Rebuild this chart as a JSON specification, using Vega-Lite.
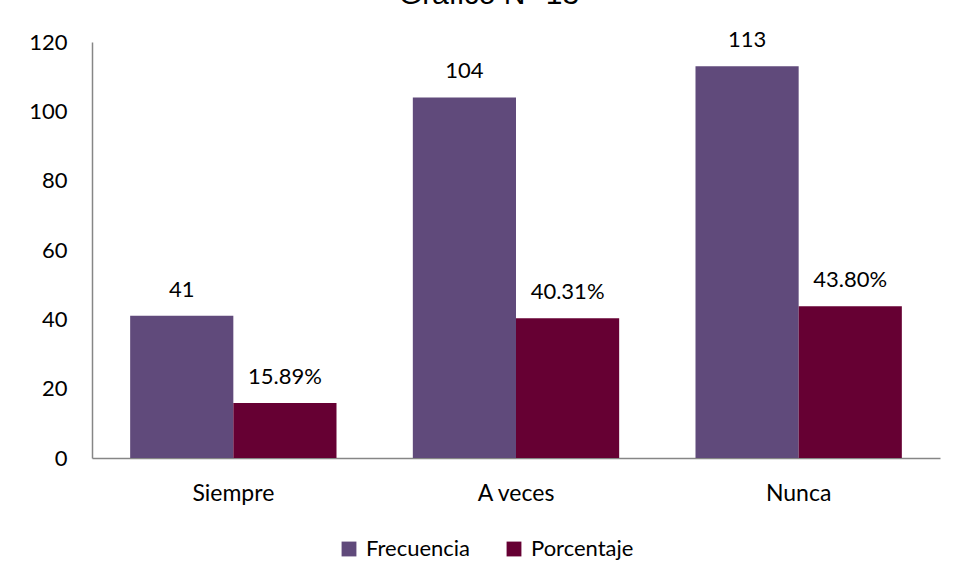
{
  "$schema": "https://vega.github.io/schema/vega-lite/v6.json",
  "autosize": {"type": "none"},
  "width": 848,
  "height": 416,
  "padding": {"left": 92, "top": 42, "right": 14, "bottom": 122},
  "background": "white",
  "title": {
    "text": "Gráfico N° 13",
    "font": "Liberation Sans",
    "fontSize": 30,
    "fontWeight": "normal",
    "color": "black",
    "anchor": "middle",
    "offset": 0,
    "dx": -27,
    "dy": -19
  },
  "data": {
    "values": [
      {"categoria": "Siempre", "serie": "Frecuencia", "valor": 41, "etiqueta": "41"},
      {"categoria": "Siempre", "serie": "Porcentaje", "valor": 15.89, "etiqueta": "15.89%"},
      {"categoria": "A veces", "serie": "Frecuencia", "valor": 104, "etiqueta": "104"},
      {"categoria": "A veces", "serie": "Porcentaje", "valor": 40.31, "etiqueta": "40.31%"},
      {"categoria": "Nunca", "serie": "Frecuencia", "valor": 113, "etiqueta": "113"},
      {"categoria": "Nunca", "serie": "Porcentaje", "valor": 43.8, "etiqueta": "43.80%"}
    ]
  },
  "encoding": {
    "x": {
      "field": "categoria",
      "type": "nominal",
      "sort": ["Siempre", "A veces", "Nunca"],
      "scale": {"paddingInner": 0.27, "paddingOuter": 0.135},
      "axis": {
        "title": null,
        "labelAngle": 0,
        "ticks": false,
        "domainColor": "#868686",
        "domainWidth": 1.5,
        "labelFont": "Lato",
        "labelFontSize": 23,
        "labelColor": "black",
        "labelPadding": 24
      }
    },
    "xOffset": {"field": "serie", "type": "nominal", "sort": ["Frecuencia", "Porcentaje"], "scale": {"paddingInner": 0, "paddingOuter": 0}},
    "y": {
      "field": "valor",
      "type": "quantitative",
      "scale": {"domain": [0, 120]},
      "axis": {
        "title": null,
        "values": [0, 20, 40, 60, 80, 100, 120],
        "grid": false,
        "ticks": false,
        "domainColor": "#868686",
        "domainWidth": 1.5,
        "labelFont": "Lato",
        "labelFontSize": 22,
        "labelColor": "black",
        "labelPadding": 25
      }
    }
  },
  "layer": [
    {
      "mark": {"type": "bar"},
      "encoding": {
        "color": {
          "field": "serie",
          "type": "nominal",
          "sort": ["Frecuencia", "Porcentaje"],
          "scale": {"domain": ["Frecuencia", "Porcentaje"], "range": ["#604A7B", "#660033"]},
          "legend": {
            "title": null,
            "orient": "none",
            "legendX": 246,
            "legendY": 496,
            "direction": "horizontal",
            "symbolType": "square",
            "symbolSize": 220,
            "symbolStrokeWidth": 0,
            "labelFont": "Lato",
            "labelFontSize": 22,
            "labelColor": "black",
            "labelOffset": 6,
            "columnPadding": 32
          }
        }
      }
    },
    {
      "mark": {"type": "text", "dy": -19, "baseline": "alphabetic", "font": "Lato", "fontSize": 22, "color": "black"},
      "encoding": {"text": {"field": "etiqueta"}}
    }
  ],
  "config": {"view": {"stroke": null}}
}
